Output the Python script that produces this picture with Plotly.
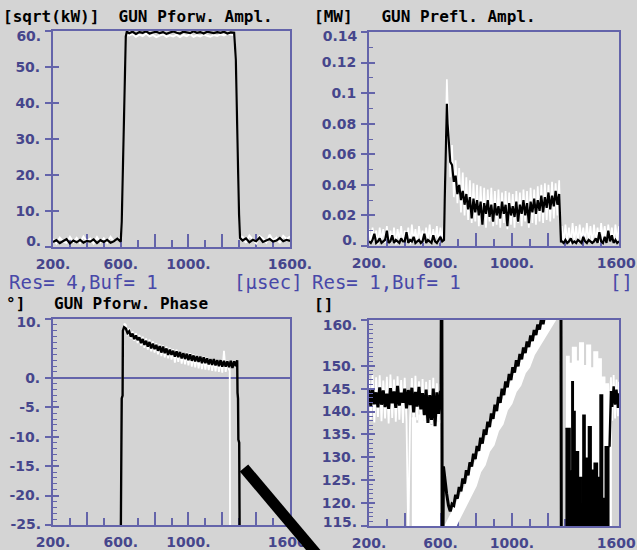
import plotly.graph_objects as go

# ---------------- data ----------------
# Top-left: GUN Pforw. Ampl. [sqrt(kW)]
tl_x = (list(range(200, 601, 20)) + [606, 612, 618, 624, 630, 636]
        + list(range(650, 1271, 20)) + [1280, 1287, 1293, 1299, 1305]
        + list(range(1320, 1601, 20)))
tl_black = ([1.4, 1.9, 1.1, 1.6, 2.2, 1.0, 1.8, 1.3, 2.0, 1.2, 1.7, 1.5, 2.1, 1.1, 1.9, 1.4, 2.0, 1.2, 1.6, 2.3, 1.5]
            + [7.0, 22.0, 38.0, 52.0, 58.5, 59.8]
            + [59.4, 59.8, 59.2, 59.7, 59.5, 59.9, 59.3, 59.6, 59.8, 59.4, 59.7, 59.2, 59.6, 59.9, 59.5, 59.3,
               59.8, 59.6, 59.4, 59.9, 59.5, 59.7, 59.3, 59.8, 59.6, 59.4, 59.7, 59.5, 59.8, 59.3, 59.6, 59.5]
            + [52.0, 40.0, 22.0, 9.0, 2.5]
            + [1.8, 2.4, 1.3, 2.0, 1.6, 2.6, 1.4, 1.9, 2.2, 1.5, 1.8, 2.5, 1.6, 2.0, 1.7])
tl_white = ([2.2, 1.0, 2.6, 1.5, 1.2, 2.8, 1.4, 2.5, 1.1, 2.9, 1.6, 2.3, 1.0, 2.7, 1.3, 2.4, 1.2, 2.8, 1.5, 2.0, 2.6]
            + [8.0, 23.0, 39.0, 53.0, 58.0, 59.0]
            + [58.8, 59.2, 58.4, 59.0, 58.6, 59.3, 58.5, 58.9, 58.3, 58.7, 59.1, 58.4, 58.8, 58.5, 59.0, 58.3,
               58.9, 58.6, 59.2, 58.4, 58.8, 58.5, 59.0, 58.7, 58.4, 58.9, 58.6, 59.1, 58.8, 59.2, 59.0, 58.8]
            + [51.0, 39.0, 21.0, 8.0, 3.0]
            + [2.8, 1.2, 3.2, 2.0, 1.0, 3.0, 2.4, 1.3, 3.4, 1.8, 2.6, 1.1, 3.1, 2.2, 2.9])

# Top-right: GUN Prefl. Ampl. [MW]
tr_x = (list(range(200, 621, 10)) + [624, 628, 632, 636, 640]
        + list(range(645, 1266, 10)) + [1270, 1275] + list(range(1280, 1601, 10)))
tr_black = ([0.003, 0.002, 0.004, 0.008, 0.002, 0.003, 0.005, 0.002, 0.003, 0.004, 0.010, 0.002, 0.003, 0.007,
             0.002, 0.004, 0.003, 0.002, 0.005, 0.003, 0.003, 0.009, 0.002, 0.004, 0.003, 0.006, 0.002, 0.003,
             0.004, 0.002, 0.003, 0.008, 0.002, 0.004, 0.003, 0.002, 0.007, 0.003, 0.002, 0.004, 0.006, 0.003, 0.004]
            + [0.030, 0.060, 0.085, 0.093, 0.080]
            + [0.072, 0.055, 0.053, 0.042, 0.046, 0.034, 0.040, 0.030, 0.036, 0.027,
               0.034, 0.024, 0.032, 0.018, 0.031, 0.022, 0.030, 0.020, 0.029, 0.014,
               0.028, 0.021, 0.030, 0.019, 0.027, 0.016, 0.028, 0.020, 0.026, 0.018,
               0.029, 0.021, 0.027, 0.013, 0.028, 0.020, 0.026, 0.019, 0.029, 0.016,
               0.027, 0.021, 0.030, 0.020, 0.028, 0.015, 0.029, 0.022, 0.031, 0.021,
               0.030, 0.023, 0.033, 0.022, 0.032, 0.025, 0.035, 0.024, 0.033, 0.026,
               0.036, 0.027, 0.034]
            + [0.010, 0.003]
            + [0.003, 0.002, 0.004, 0.002, 0.003, 0.005, 0.002, 0.003, 0.002, 0.004, 0.003, 0.002, 0.006, 0.003,
               0.002, 0.004, 0.003, 0.002, 0.003, 0.005, 0.002, 0.009, 0.003, 0.002, 0.006, 0.002, 0.010, 0.003,
               0.007, 0.002, 0.004, 0.002, 0.003])
tr_white = ([0.011, 0.002, 0.012, 0.003, 0.010, 0.001, 0.012, 0.004, 0.011, 0.002, 0.013, 0.003, 0.010, 0.002,
             0.012, 0.001, 0.011, 0.004, 0.013, 0.002, 0.010, 0.003, 0.012, 0.001, 0.014, 0.003, 0.011, 0.002,
             0.013, 0.004, 0.010, 0.002, 0.012, 0.003, 0.014, 0.001, 0.011, 0.003, 0.013, 0.002, 0.012, 0.004, 0.015]
            + [0.040, 0.080, 0.104, 0.109, 0.095]
            + [0.086, 0.045, 0.066, 0.032, 0.056, 0.028, 0.051, 0.022, 0.048, 0.020,
               0.045, 0.017, 0.043, 0.015, 0.041, 0.016, 0.040, 0.013, 0.039, 0.015,
               0.038, 0.012, 0.037, 0.016, 0.038, 0.013, 0.036, 0.014, 0.037, 0.012,
               0.035, 0.015, 0.036, 0.011, 0.035, 0.014, 0.034, 0.012, 0.036, 0.015,
               0.035, 0.013, 0.037, 0.016, 0.036, 0.012, 0.038, 0.015, 0.037, 0.014,
               0.039, 0.016, 0.040, 0.015, 0.041, 0.017, 0.040, 0.016, 0.042, 0.018,
               0.041, 0.020, 0.043]
            + [0.020, 0.010]
            + [0.013, 0.002, 0.014, 0.003, 0.012, 0.001, 0.015, 0.003, 0.013, 0.002, 0.014, 0.004, 0.012, 0.002,
               0.015, 0.003, 0.013, 0.001, 0.014, 0.003, 0.012, 0.002, 0.015, 0.004, 0.013, 0.002, 0.014, 0.003,
               0.012, 0.001, 0.014, 0.003, 0.013])

# Bottom-left: GUN Pforw. Phase [deg]
bl_black_x = [600, 601, 604, 606, 611, 613, 620] + list(range(630, 1281, 10)) + [1288, 1290, 1293, 1295, 1300, 1303]
bl_black = ([-30, -15, -14.5, -3.5, -3, 8.0, 8.6]
            + [8.4, 7.6, 7.9, 7.0, 7.5, 6.6, 7.2, 6.4, 6.9, 5.9,
               6.6, 5.6, 6.3, 5.3, 6.1, 5.0, 5.8, 4.9, 5.6, 4.6,
               5.4, 4.3, 5.3, 4.2, 5.0, 3.9, 4.8, 3.9, 4.6, 3.6,
               4.5, 3.5, 4.4, 3.3, 4.2, 3.2, 4.1, 3.0, 4.0, 2.9,
               3.8, 2.8, 3.7, 2.7, 3.6, 2.5, 3.5, 2.5, 3.3, 2.3,
               3.2, 2.2, 3.2, 2.1, 3.0, 2.0, 3.0, 1.9, 2.9, 1.9,
               2.8, 1.8, 2.9, 1.7, 2.8, 2.0]
            + [3.0, -2.5, -3.5, -10.5, -11, -30])
bl_white_x = [603, 604, 608, 612, 616, 622] + list(range(630, 1241, 10)) + [1244, 1246]
bl_white = ([-30, -16, -5, 2, 7.5, 9.2]
            + [9.0, 7.2, 8.4, 6.7, 7.9, 6.3, 7.6, 5.9, 7.3, 5.5,
               7.0, 5.1, 6.7, 4.8, 6.5, 4.5, 6.2, 4.3, 5.9, 4.0,
               5.7, 3.7, 5.5, 3.5, 5.3, 3.3, 5.1, 3.1, 4.9, 2.6,
               4.8, 2.7, 4.6, 2.4, 4.4, 2.3, 4.3, 2.1, 4.2, 1.9,
               4.0, 1.8, 3.9, 1.6, 3.7, 1.5, 3.6, 1.4, 3.4, 1.3,
               3.3, 1.2, 3.2, 1.1, 3.1, 1.0, 3.0, 0.9, 4.6, 1.0,
               2.9, 1.3]
            + [1.5, -30])

# Bottom-right: phase []
br_black_x = (list(range(200, 601, 10)) + [603, 605, 608, 610, 614, 617, 625, 635, 645, 655]
              + list(range(665, 1196, 10)) + [1205, 1270, 1275, 1277])
br_black = ([144.8, 141.2, 145.0, 141.6, 144.2, 140.9, 145.3, 141.5, 144.6, 141.0,
             143.9, 140.6, 145.1, 141.8, 144.4, 140.8, 145.6, 141.3, 144.1, 141.9,
             145.0, 140.7, 144.7, 141.4, 145.2, 139.8, 144.3, 141.1, 145.4, 140.5,
             144.0, 139.2, 144.8, 137.5, 143.6, 138.2, 145.0, 136.8, 144.2, 139.5, 144.5]
            + [143.0, 166, 166, 110, 110, 128, 125, 122, 119.5, 118.2]
            + [119.8, 119.5, 121.8, 121.0, 123.5, 122.6, 125.4, 124.3, 127.2, 126.1,
               128.9, 128.0, 130.8, 129.6, 132.5, 131.4, 134.3, 133.0, 136.1, 134.9,
               137.8, 136.6, 139.6, 138.4, 141.5, 140.1, 143.2, 141.9, 145.0, 143.6,
               146.6, 145.3, 148.2, 146.9, 149.7, 148.5, 151.2, 149.9, 152.6, 151.4,
               154.0, 152.8, 155.3, 154.1, 156.6, 155.4, 157.8, 156.7, 159.0, 157.9,
               160.2, 159.1, 161.3, 160.5]
            + [162, 165, 165, 110])
br_white_x = list(range(200, 601, 10))
br_white = [147.2, 138.3, 148.0, 137.6, 147.5, 138.8, 147.9, 137.9, 146.8, 138.5,
            147.6, 137.4, 148.1, 138.6, 147.0, 137.8, 147.7, 138.2, 146.9, 137.5,
            147.4, 138.0, 112.0, 138.4, 147.3, 137.2, 147.8, 138.1, 146.6, 137.6,
            147.1, 137.0, 146.5, 136.5, 146.9, 137.3, 147.4, 136.2, 146.2, 137.8, 146.0]
br_wfill_x = [440, 460, 480, 500, 520, 540, 560, 580, 598]
br_wfill = [138.6, 137.4, 139.2, 137.8, 138.4, 136.9, 138.8, 137.6, 138.2]
br_wramp_x = [630, 645, 660, 680, 700, 725, 750, 775, 800, 825, 850, 875, 900, 925,
              950, 975, 1000, 1025, 1050, 1075, 1100, 1125, 1150, 1175, 1200, 1225, 1250, 1275]
br_wramp = [113.0, 114.2, 115.4, 116.8, 118.3, 119.8, 122.7, 124.2, 127.3, 128.8, 131.8, 133.2, 136.3, 137.7,
            140.8, 142.2, 144.9, 146.2, 148.9, 150.2, 152.8, 154.3, 156.7, 157.8, 159.8, 160.8, 162.7, 164.0]
br_wnoise_x = [1303, 1320, 1340, 1360, 1380, 1400, 1420, 1440, 1460, 1480, 1500, 1520, 1540, 1560]
br_wnoise = [152.0, 150.5, 154.0, 151.0, 155.0, 150.0, 154.5, 149.5, 153.0, 151.5, 147.5, 146.0, 144.0, 141.0]
br_bnoise_x = [1300, 1326, 1336, 1344, 1354, 1373, 1392, 1398, 1410, 1429, 1444, 1461, 1479, 1494, 1508, 1523, 1547]
br_bnoise = [136.3, 127.0, 146.5, 140.0, 131.2, 125.6, 120.0, 139.2, 129.8, 136.7, 127.2, 128.7, 125.6,
             143.6, 121.0, 132.3, 132.3]
br_end_x = [1547, 1555, 1562, 1570, 1578, 1586, 1594, 1600]
br_end_black = [132.3, 144.5, 141.0, 145.5, 141.5, 144.8, 140.8, 144.0]
br_end_white = [141.0, 147.5, 138.0, 148.0, 138.5, 147.0, 139.0, 146.5]

# tick labels
x_tickvals = [200, 400, 600, 800, 1000, 1200, 1400, 1600]
x_ticktext = ["200.", "", "600.", "", "1000.", "", "", "1600."]
tl_tickvals = [0, 10, 20, 30, 40, 50, 60]
tl_ticktext = ["0.", "10.", "20.", "30.", "40.", "50.", "60."]
tr_tickvals = [0, 0.02, 0.04, 0.06, 0.08, 0.1, 0.12, 0.14]
tr_ticktext = ["0.", "0.02", "0.04", "0.06", "0.08", "0.1", "0.12", "0.14"]
bl_tickvals = [-25, -20, -15, -10, -5, 0, 10]
bl_ticktext = ["-25.", "-20.", "-15.", "-10.", "-5.", "0.", "10."]
br_tickvals = [115, 120, 125, 130, 135, 140, 145, 150, 160]
br_ticktext = ["115.", "120.", "125.", "130.", "135.", "140.", "145.", "150.", "160."]

pairs = [(tl_x, tl_black), (tl_x, tl_white), (tr_x, tr_black), (tr_x, tr_white),
         (bl_black_x, bl_black), (bl_white_x, bl_white), (br_black_x, br_black), (br_white_x, br_white),
         (br_wfill_x, br_wfill), (br_wramp_x, br_wramp), (br_wnoise_x, br_wnoise), (br_bnoise_x, br_bnoise),
         (br_end_x, br_end_black), (br_end_x, br_end_white)]
for i, (a, b) in enumerate(pairs):
    if len(a) != len(b):
        raise ValueError(f"pair {i}: {len(a)} x vs {len(b)} y")

# ---------------- style ----------------
BG = "#d4d4d4"
AX = "#6464aa"
LAB = "#46468c"
RES = "#4848a8"
TICKFONT = dict(family="DejaVu Sans", size=14, color=LAB, weight="bold")

fig = go.Figure()


def line(x, y, xa, ya, color, width=2.0, shape="linear", fill=None):
    fig.add_trace(go.Scatter(
        x=x, y=y, xaxis=xa, yaxis=ya, mode="lines",
        line=dict(color=color, width=width, shape=shape),
        fill=fill, fillcolor=color if fill else None,
        showlegend=False, hoverinfo="skip"))


# TL
line(tl_x, tl_white, "x", "y", "white")
line(tl_x, tl_black, "x", "y", "black", 2.2)
# TR
line(tr_x, tr_white, "x2", "y2", "white", 1.7)
line(tr_x, tr_black, "x2", "y2", "black", 2.2)
# BL
line(bl_white_x, bl_white, "x3", "y3", "white", 1.8)
line(bl_black_x, bl_black, "x3", "y3", "black", 2.4)
# BR
line(br_white_x, br_white, "x4", "y4", "white", 1.8)
line(br_wfill_x, br_wfill, "x4", "y4", "white", 1.5, "hv", "tozeroy")
line(br_wramp_x, br_wramp, "x4", "y4", "white", 11)
line(br_wnoise_x, br_wnoise, "x4", "y4", "white", 1.5, "hv", "tozeroy")
line(br_end_x, br_end_white, "x4", "y4", "white", 1.8)
line(br_black_x, br_black, "x4", "y4", "black", 3)
line(br_bnoise_x, br_bnoise, "x4", "y4", "black", 1.5, "hv", "tozeroy")
line(br_end_x, br_end_black, "x4", "y4", "black", 2.4)

XDOM_L = [53 / 637, 290 / 637]
XDOM_R = [369 / 637, 619 / 637]
YDOM_TL = [1 - 247 / 550, 1 - 31 / 550]
YDOM_TR = [1 - 246 / 550, 1 - 32 / 550]
YDOM_BL = [1 - 525 / 550, 1 - 319 / 550]
YDOM_BR = [1 - 526 / 550, 1 - 320 / 550]


def xaxis(domain, anchor):
    return dict(domain=domain, anchor=anchor, range=[200, 1600], showline=True, linecolor=AX, linewidth=2,
                mirror=True, ticks="inside", tickmode="array", tickvals=x_tickvals, ticktext=x_ticktext,
                ticklen=13, tickwidth=1.5, tickcolor=AX,
                minor=dict(ticks="inside", tickmode="linear", tick0=200, dtick=100, ticklen=7,
                           tickwidth=1.5, tickcolor=AX),
                showgrid=False, zeroline=False, tickfont=TICKFONT, ticklabelstandoff=3,
                ticklabeloverflow="allow", layer="below traces", fixedrange=True, automargin=False)


def yaxis(domain, anchor, rng, vals, text, zeroline=False):
    # end labels are drawn by the label twins (shifted inward like the original display)
    inner = [t if v not in (rng[0], rng[1]) else "" for v, t in zip(vals, text)]
    return dict(domain=domain, anchor=anchor, range=rng, showline=True, linecolor=AX, linewidth=2,
                mirror=True, ticks="outside", tickmode="array", tickvals=vals, ticktext=inner,
                ticklen=6, tickwidth=1.5, tickcolor=AX, showgrid=False,
                zeroline=zeroline, zerolinecolor=AX, zerolinewidth=1.5,
                tickfont=TICKFONT, ticklabelstandoff=2, layer="below traces", fixedrange=True,
                automargin=False)


def ytwin(over, anchor, rng, vals, minor_dtick=None):
    d = dict(overlaying=over, anchor=anchor, side="left", range=rng, showline=False, ticks="inside",
             tickmode="array", tickvals=vals, ticklen=6, tickwidth=1.5, tickcolor=AX,
             showticklabels=False, showgrid=False, zeroline=False, fixedrange=True, automargin=False)
    if minor_dtick:
        d["minor"] = dict(ticks="inside", tickmode="linear", tick0=rng[0], dtick=minor_dtick,
                          ticklen=4, tickwidth=1.2, tickcolor=AX)
    return d


def ylabtwin(over, anchor, rng, vals, text, which, shift):
    v = rng[1] if which == "top" else rng[0]
    t = text[vals.index(v)]
    return dict(overlaying=over, anchor=anchor, side="left", range=rng, showline=False, ticks="outside",
                ticklen=6, tickwidth=1, tickcolor="rgba(0,0,0,0)", tickmode="array", tickvals=[v],
                ticktext=[t], ticklabelshift=shift, ticklabelstandoff=2, tickfont=TICKFONT,
                showgrid=False, zeroline=False, fixedrange=True, automargin=False)


# (x, y, range, tickvals, ticktext, minor dtick, top label shift, bottom label shift) - shift>0 moves down
panels = [
    ("x", "y", [0, 60], tl_tickvals, tl_ticktext, None, 5, -6),
    ("x2", "y2", [0, 0.14], tr_tickvals, tr_ticktext, 0.01, 4, -6),
    ("x3", "y3", [-25, 10], bl_tickvals, bl_ticktext, 1, 3, -1),
    ("x4", "y4", [115, 160], br_tickvals, br_ticktext, 1, 5, -4),
]
extra_axes = {}
n = 5
for xa, ya, rng, vals, text, mdt, top_shift, bot_shift in panels:
    for kind in ("ticks", "top", "bottom"):
        name = f"yaxis{n}"
        if kind == "ticks":
            extra_axes[name] = ytwin(ya, xa, rng, vals, mdt)
        else:
            extra_axes[name] = ylabtwin(ya, xa, rng, vals, text, kind,
                                        top_shift if kind == "top" else bot_shift)
        fig.add_trace(go.Scatter(x=[], y=[], xaxis=xa, yaxis=f"y{n}", showlegend=False, hoverinfo="skip"))
        n += 1

TITLE_FONT = dict(family="DejaVu Sans Mono", size=16, color="black", weight="bold")
RES_FONT = dict(family="DejaVu Sans Mono", size=19, color=RES)


def ann(text, px, py, font, xanchor="left"):
    return dict(text=text, x=px / 637, y=1 - py / 550, xref="paper", yref="paper",
                xanchor=xanchor, yanchor="middle", showarrow=False, font=font, borderpad=0)


fig.update_layout(
    template="none",
    width=637, height=550, margin=dict(l=0, r=0, t=0, b=0, autoexpand=False),
    paper_bgcolor=BG, plot_bgcolor=BG, showlegend=False,
    xaxis=xaxis(XDOM_L, "y"),
    xaxis2=xaxis(XDOM_R, "y2"),
    xaxis3=xaxis(XDOM_L, "y3"),
    xaxis4=xaxis(XDOM_R, "y4"),
    yaxis=yaxis(YDOM_TL, "x", [0, 60], tl_tickvals, tl_ticktext),
    yaxis2=yaxis(YDOM_TR, "x2", [0, 0.14], tr_tickvals, tr_ticktext),
    yaxis3=yaxis(YDOM_BL, "x3", [-25, 10], bl_tickvals, bl_ticktext, zeroline=True),
    yaxis4=yaxis(YDOM_BR, "x4", [115, 160], br_tickvals, br_ticktext),
    annotations=[
        ann("[sqrt(kW)]  GUN Pforw. Ampl.", 2, 17, TITLE_FONT),
        ann("[MW]   GUN Prefl. Ampl.", 313, 17, TITLE_FONT),
        ann("Res= 4,Buf= 1", 8, 282, RES_FONT),
        ann("[µsec]", 304, 282, RES_FONT, "right"),
        ann("Res= 1,Buf= 1", 311, 282, RES_FONT),
        ann("[]", 634, 282, RES_FONT, "right"),
        ann("°]", 5, 303, TITLE_FONT),
        ann("GUN Pforw. Phase", 53, 303, TITLE_FONT),
        ann("[]", 313, 304, TITLE_FONT),
    ],
    shapes=[dict(type="line", xref="paper", yref="paper",
                 x0=244 / 637, y0=1 - 468 / 550, x1=347 / 637, y1=1 - 590 / 550,
                 line=dict(color="black", width=11))],
)
fig.update_layout(**extra_axes)

fig.write_html("out.html", config={"displayModeBar": False})
